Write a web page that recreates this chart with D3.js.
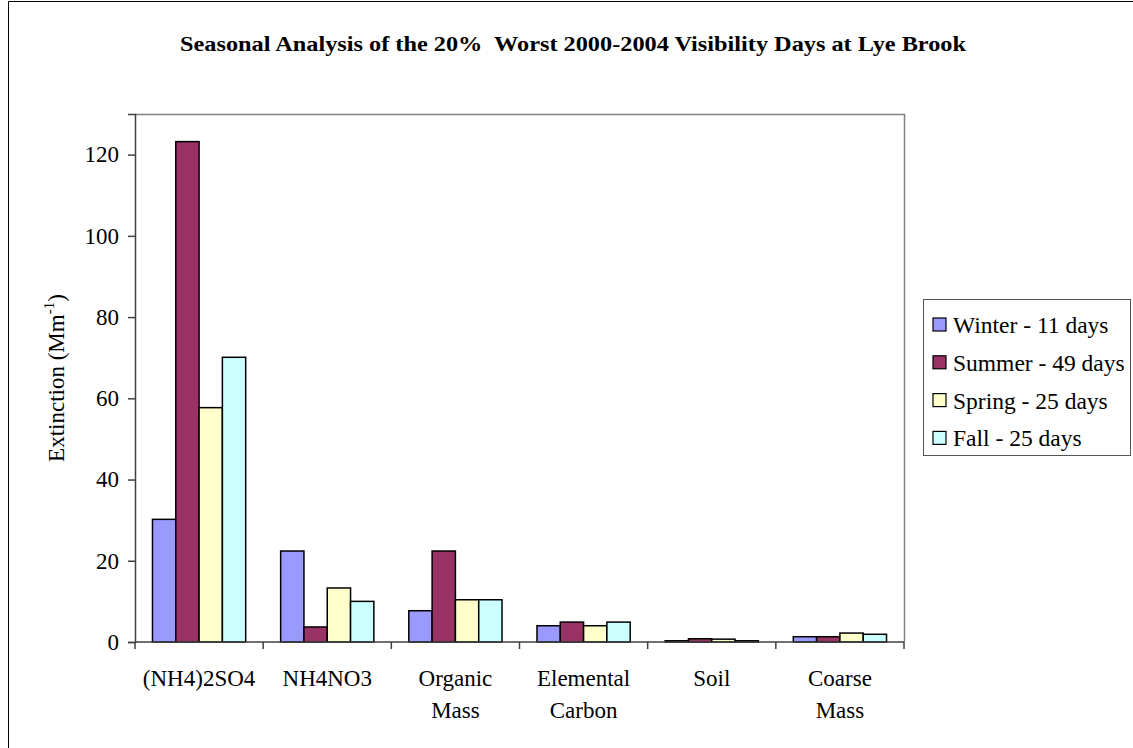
<!DOCTYPE html>
<html>
<head>
<meta charset="utf-8">
<script src="https://cdn.jsdelivr.net/npm/d3@7"></script>
<style>
  html, body { margin: 0; padding: 0; background: #fff; }
  svg { display: block; }
  text { font-family: "Liberation Serif", "Times New Roman", serif; fill: #000; }
</style>
</head>
<body>
<svg id="chart" width="1133" height="748"></svg>
<script>
const categories = ["(NH4)2SO4", "NH4NO3", "Organic Mass", "Elemental Carbon", "Soil", "Coarse Mass"];
const categoryLines = [["(NH4)2SO4"], ["NH4NO3"], ["Organic", "Mass"], ["Elemental", "Carbon"], ["Soil"], ["Coarse", "Mass"]];
const seriesNames = ["Winter - 11 days", "Summer - 49 days", "Spring - 25 days", "Fall - 25 days"];
const seriesColors = ["#9999FF", "#993366", "#FFFFCC", "#CCFFFF"];
const winter = [30.2, 22.4, 7.7, 4.0, 0.3, 1.3];
const summer = [123.2, 3.7, 22.4, 4.9, 0.8, 1.3];
const spring = [57.7, 13.3, 10.4, 4.0, 0.7, 2.2];
const fall = [70.1, 10.0, 10.4, 4.9, 0.3, 1.9];
const yTicks = [0, 20, 40, 60, 80, 100, 120];
const yMax = 130;

const seriesValues = [winter, summer, spring, fall];
const svg = d3.select("#chart");

// outer frame (top and left edges visible)
svg.append("path")
  .attr("d", "M8.5,748 L8.5,1.5 L1133,1.5")
  .attr("fill", "none").attr("stroke", "#000").attr("stroke-width", 1);

// title
svg.append("text")
  .attr("x", 573).attr("y", 51)
  .attr("text-anchor", "middle")
  .attr("font-weight", "bold")
  .attr("font-size", 21)
  .attr("textLength", 786)
  .attr("lengthAdjust", "spacingAndGlyphs")
  .text("Seasonal Analysis of the 20%\u00A0 Worst 2000-2004 Visibility Days at Lye Brook");

const pLeft = 135, pRight = 904, pTop = 114, pBottom = 642;

const x0 = d3.scaleBand().domain(categories).range([pLeft, pRight])
  .paddingInner(1.5 / 5.5).paddingOuter(0.75 / 5.5);
const x1 = d3.scaleBand().domain(d3.range(seriesNames.length)).range([0, x0.bandwidth()]);
const y = d3.scaleLinear().domain([0, yMax]).range([pBottom, pTop]);

// plot area border (top & right, gray)
svg.append("path")
  .attr("d", `M${pLeft},${pTop + 0.5} L${pRight + 0.5},${pTop + 0.5} L${pRight + 0.5},${pBottom}`)
  .attr("fill", "none").attr("stroke", "#808080").attr("stroke-width", 1.5);

// bars
const groups = svg.append("g").selectAll("g")
  .data(categories).join("g")
  .attr("transform", d => `translate(${x0(d)},0)`);
groups.selectAll("rect")
  .data((c, ci) => seriesValues.map((s, si) => ({ si, v: s[ci] })))
  .join("rect")
  .attr("x", d => x1(d.si))
  .attr("width", x1.bandwidth())
  .attr("y", d => y(d.v))
  .attr("height", d => y(0) - y(d.v))
  .attr("fill", d => seriesColors[d.si])
  .attr("stroke", "#000").attr("stroke-width", 1.5);

// y axis
const yAxis = d3.axisLeft(y).tickValues(yTicks).tickSize(7).tickPadding(9).tickFormat(d3.format("d"));
const yg = svg.append("g").attr("transform", `translate(${pLeft},0)`).call(yAxis);
yg.select(".domain").attr("stroke", "#404040").attr("stroke-width", 1.5);
yg.selectAll(".tick line").attr("stroke", "#404040").attr("stroke-width", 1.5);
yg.selectAll(".tick text").attr("font-size", 23).attr("fill", "#000");

// x axis baseline and category ticks
const xg = svg.append("g");
xg.append("line").attr("x1", pLeft).attr("x2", pRight).attr("y1", pBottom).attr("y2", pBottom)
  .attr("stroke", "#404040").attr("stroke-width", 1.5);
const step = x0.step();
xg.selectAll("line.tk").data(d3.range(categories.length + 1)).join("line")
  .attr("class", "tk")
  .attr("x1", i => pLeft + i * step).attr("x2", i => pLeft + i * step)
  .attr("y1", pBottom).attr("y2", pBottom + 7)
  .attr("stroke", "#404040").attr("stroke-width", 1.5);

// x labels
const xl = svg.append("g").selectAll("text").data(categories).join("text")
  .attr("text-anchor", "middle")
  .attr("font-size", 23)
  .attr("x", d => x0(d) + x0.bandwidth() / 2)
  .attr("y", 686);
xl.each(function(d, i) {
  const t = d3.select(this);
  categoryLines[i].forEach((ln, k) => {
    t.append("tspan").attr("x", x0(d) + x0.bandwidth() / 2).attr("dy", k === 0 ? 0 : 32).text(ln);
  });
});

// y label
const yl = svg.append("text")
  .attr("transform", "translate(64,378) rotate(-90)")
  .attr("text-anchor", "middle")
  .attr("font-size", 23);
yl.append("tspan").text("Extinction (Mm");
yl.append("tspan").attr("font-size", 15).attr("dy", -10).text("-1");
yl.append("tspan").attr("dy", 10).text(")");

// legend
const lg = svg.append("g");
lg.append("rect").attr("x", 923.5).attr("y", 299.5).attr("width", 207).attr("height", 156)
  .attr("fill", "#fff").attr("stroke", "#555").attr("stroke-width", 1);
const items = lg.selectAll("g.item").data(seriesNames).join("g").attr("class", "item")
  .attr("transform", (d, i) => `translate(0,${325 + i * 37.8})`);
items.append("rect").attr("x", 933).attr("y", -7).attr("width", 13).attr("height", 13)
  .attr("fill", (d, i) => seriesColors[i]).attr("stroke", "#000").attr("stroke-width", 1.2);
items.append("text").attr("x", 953).attr("y", 8).attr("font-size", 23.5).text(d => d);
</script>
</body>
</html>
